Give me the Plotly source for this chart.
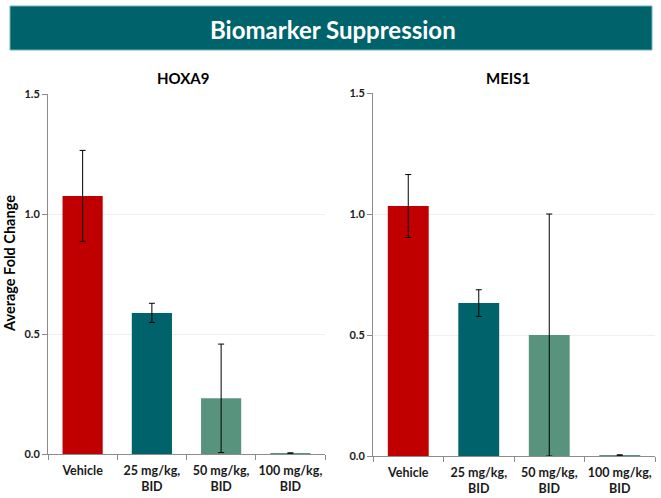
import plotly.graph_objects as go

# Treatment groups and mean fold change (with SD) for each biomarker
groups = ["Vehicle", "25 mg/kg,<br>BID", "50 mg/kg,<br>BID", "100 mg/kg,<br>BID"]
hoxa9_mean = [1.075, 0.588, 0.232, 0.003]
hoxa9_err = [0.19, 0.04, 0.226, 0.002]
meis1_mean = [1.033, 0.632, 0.50, 0.003]
meis1_err = [0.13, 0.055, 0.50, 0.002]
y_ticks = [0.0, 0.5, 1.0, 1.5]
bar_colors = ["#C00000", "#00636B", "#58937E", "#58937E"]

W, H = 661, 498
FONT = "Lato"

fig = go.Figure()

for mean, err, xa, ya in [(hoxa9_mean, hoxa9_err, "x", "y"),
                          (meis1_mean, meis1_err, "x2", "y2")]:
    fig.add_trace(go.Bar(
        x=groups, y=mean, xaxis=xa, yaxis=ya,
        marker=dict(color=bar_colors, line=dict(width=0)),
        width=0.58,
        error_y=dict(type="data", array=err, symmetric=True,
                     color="#000000", thickness=1, width=3),
        showlegend=False,
    ))

def px_x(p):
    return p / W

def px_y(p):
    return 1 - p / H

xaxis_style = dict(
    type="category", showline=True, linecolor="#8c8c8c", linewidth=1,
    ticks="outside", tickson="boundaries", ticklen=5, tickcolor="#8c8c8c",
    showgrid=False, zeroline=False, tickangle=0, automargin=False,
    ticklabelstandoff=5,
    tickfont=dict(family=FONT, size=12.5, color="#1a1a1a", weight="bold"),
)
yaxis_style = dict(
    range=[0, 1.5], tickvals=y_ticks, ticktext=[f"{v:.1f}" for v in y_ticks],
    showline=True, linecolor="#8c8c8c", linewidth=1,
    ticks="outside", ticklen=5, tickcolor="#8c8c8c", automargin=False,
    showgrid=True, gridcolor="#efefef", gridwidth=1, zeroline=False,
    tickfont=dict(family=FONT, size=11, color="#1a1a1a", weight="bold"),
)

def label(text, x, y, size, color="#000000", angle=0):
    return dict(text=text, xref="paper", yref="paper", x=px_x(x), y=px_y(y),
                xanchor="center", yanchor="middle", showarrow=False,
                textangle=angle,
                font=dict(family=FONT, size=size, color=color, weight="bold"))

fig.update_layout(
    width=W, height=H,
    margin=dict(l=0, r=0, t=0, b=0, autoexpand=False),
    paper_bgcolor="white", plot_bgcolor="white",
    xaxis=dict(domain=[px_x(48), px_x(325)], anchor="y", **xaxis_style),
    yaxis=dict(domain=[px_y(454), px_y(94)], anchor="x", **yaxis_style),
    xaxis2=dict(domain=[px_x(373), px_x(655)], anchor="y2", **xaxis_style),
    yaxis2=dict(domain=[px_y(456), px_y(93)], anchor="x2", **yaxis_style),
    shapes=[dict(type="rect", xref="paper", yref="paper",
                 x0=px_x(10), x1=px_x(652), y0=px_y(50), y1=px_y(6),
                 fillcolor="#00636B", line=dict(color="#6fb3b8", width=1),
                 layer="below")],
    annotations=[
        label("Biomarker Suppression", 333, 29, 24, color="white"),
        label("HOXA9", 183, 78, 15),
        label("MEIS1", 508, 78, 15),
        label("Average Fold Change", 9, 264, 14.5, angle=-90),
    ],
)

fig.write_html("out.html")
